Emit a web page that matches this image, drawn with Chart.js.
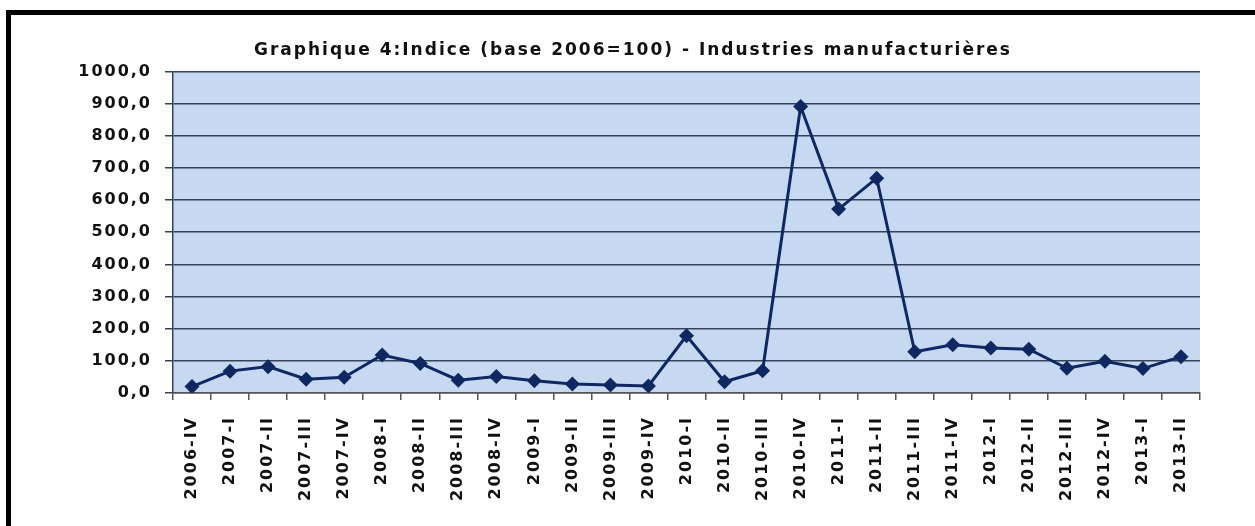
<!DOCTYPE html>
<html>
<head>
<meta charset="utf-8">
<script src="https://cdn.jsdelivr.net/npm/chart.js@4/dist/chart.umd.min.js"></script>
<style>
  html, body { margin: 0; padding: 0; background: #fff; }
  #frame {
    position: absolute; left: 6px; top: 10px;
    border-top: 5px solid #000; border-left: 5px solid #000;
    width: 1244px; height: 511px;
  }
  #myChart { display: block; }
</style>
</head>
<body>
<div id="frame"><canvas id="myChart" width="1244" height="511"></canvas></div>
<script>
const quarters = ['2006-IV',
    '2007-I', '2007-II', '2007-III', '2007-IV',
    '2008-I', '2008-II', '2008-III', '2008-IV',
    '2009-I', '2009-II', '2009-III', '2009-IV',
    '2010-I', '2010-II', '2010-III', '2010-IV',
    '2011-I', '2011-II', '2011-III', '2011-IV',
    '2012-I', '2012-II', '2012-III', '2012-IV',
    '2013-I', '2013-II'];
const indice = [20,
    68, 82, 43, 49,
    118, 92, 40, 51,
    38, 28, 25, 22,
    178, 35, 69, 891,
    572, 668, 128, 150,
    140, 136, 77, 99,
    76, 113];
const yTicks = [0, 100, 200, 300, 400, 500, 600, 700, 800, 900, 1000];
const titre = 'Graphique 4:Indice (base 2006=100) - Industries manufacturières';

const navy = '#102862';
const gridDark = '#34425a';
const fontFamily = '"DejaVu Sans", sans-serif';
const tickFont = { family: fontFamily, size: 16, weight: 'bold' };

// plot background + the wide letter spacing of the original
const plotLook = {
    id: 'plotLook',
    beforeUpdate(chart) {
        chart.ctx.letterSpacing = '2px';
    },
    beforeDraw(chart) {
        const { ctx, chartArea } = chart;
        ctx.letterSpacing = '2px';
        ctx.save();
        ctx.fillStyle = '#c6d9f0';
        ctx.fillRect(chartArea.left, chartArea.top, chartArea.right - chartArea.left, chartArea.bottom - chartArea.top);
        ctx.restore();
    }
};

const ctx = document.getElementById('myChart').getContext('2d');
const chart = new Chart(ctx, {
    type: 'line',
    data: {
        labels: quarters,
        datasets: [{
            label: 'Indice',
            data: indice,
            borderColor: navy,
            backgroundColor: navy,
            borderWidth: 3,
            pointStyle: 'rectRot',
            pointRadius: 7.5,
            pointBorderWidth: 0,
            tension: 0,
        }]
    },
    options: {
        responsive: false,
        animation: false,
        layout: { padding: { left: 55, right: 55, top: 0, bottom: 0 } },
        plugins: {
            legend: { display: false },
            tooltip: { enabled: false },
            title: {
                display: true,
                text: titre,
                color: '#111',
                font: { family: fontFamily, size: 17, weight: 'bold', lineHeight: 1.2 },
                padding: { top: 25, bottom: 11 }
            }
        },
        scales: {
            x: {
                offset: true,
                grid: {
                    offset: true,
                    drawOnChartArea: false,
                    drawTicks: true,
                    tickLength: 7,
                    color: '#555',
                    lineWidth: 1.5
                },
                border: { color: '#555', width: 1.5 },
                ticks: {
                    autoSkip: false,
                    maxRotation: 90,
                    minRotation: 90,
                    padding: 16,
                    color: '#111',
                    font: tickFont
                },
                afterFit(scale) { scale.height = 133; }
            },
            y: {
                min: 0,
                max: 1000,
                afterBuildTicks(scale) {
                    scale.ticks = yTicks.map(v => ({ value: v }));
                },
                grid: {
                    color: gridDark,
                    lineWidth: 1.5,
                    tickLength: 8
                },
                border: { color: gridDark, width: 1.5 },
                ticks: {
                    padding: 13,
                    color: '#111',
                    font: tickFont,
                    callback: v => v.toFixed(1).replace('.', ',')
                },
                afterFit(scale) { scale.width = 107; }
            }
        }
    },
    plugins: [plotLook]
});
</script>
</body>
</html>
